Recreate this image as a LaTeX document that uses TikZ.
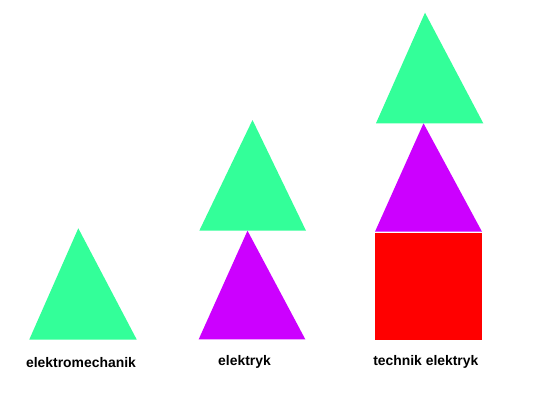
\documentclass[tikz,border=0pt]{standalone}
\usepackage{fontspec}
\setmainfont{Liberation Sans}
\definecolor{tgreen}{HTML}{33FF99}
\definecolor{tpurple}{HTML}{CC00FF}
\definecolor{tred}{HTML}{FF0000}
\begin{document}
\begin{tikzpicture}[x=1pt,y=-1pt,
  lbl/.style={font=\fontsize{13.9}{16}\selectfont\bfseries, text=black, inner sep=0pt, anchor=center}]
\useasboundingbox[fill=white] (0,0) rectangle (560,410);
% left
\fill[tgreen] (78.3,228.3) -- (136.7,339.5) -- (29.3,339.5) -- cycle;
% middle
\fill[tpurple] (247.5,230.7) -- (305.3,339.3) -- (198.7,339.3) -- cycle;
\fill[tgreen] (252.5,120) -- (306,230.7) -- (199.3,230.7) -- cycle;
% right
\fill[tred] (375,232.7) rectangle (482,340);
\fill[tpurple] (423.5,123.3) -- (482,231.7) -- (375,231.7) -- cycle;
\fill[tgreen] (425,12.7) -- (483.3,123.3) -- (376,123.3) -- cycle;
% labels
\node[lbl] (l1) at (81,362.5) {elektromechanik};
\node[lbl] (l2) at (244.5,361.7) {elektryk};
\node[lbl] (l3) at (425.8,361.7) {technik elektryk};
\end{tikzpicture}
\end{document}
